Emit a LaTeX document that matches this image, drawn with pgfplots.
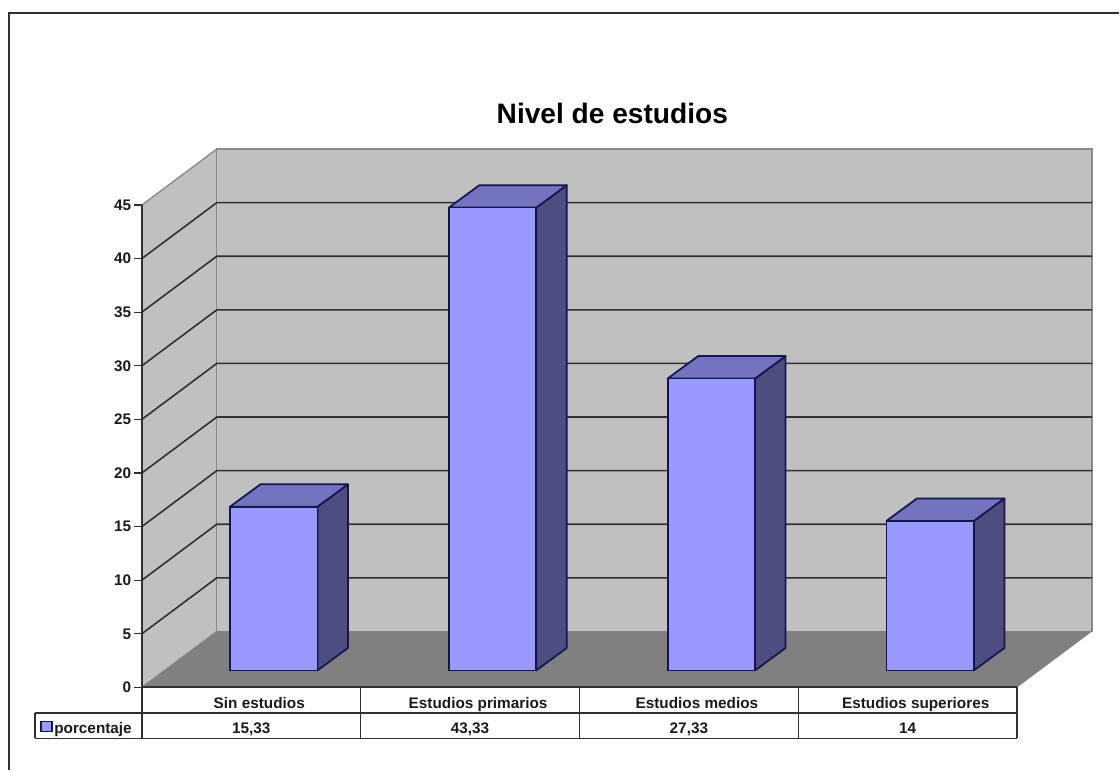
\documentclass[border=0pt]{standalone}
\usepackage{fontspec}
\setmainfont{Liberation Sans}
\usepackage{pgfplots}
\pgfplotsset{compat=1.18}

\definecolor{pared}{HTML}{C0C0C0}
\definecolor{suelo}{HTML}{808080}
\definecolor{borde}{HTML}{8A8A8A}
\definecolor{rejilla}{HTML}{303030}
\definecolor{frente}{HTML}{9999FF}
\definecolor{arriba}{HTML}{7373BF}
\definecolor{lado}{HTML}{4D4D80}
\definecolor{arista}{HTML}{15154F}
\definecolor{texto}{HTML}{1A1A1A}

\newcommand{\letra}{\fontsize{11.5pt}{13pt}\selectfont\bfseries\color{texto}}

% caras lateral y superior de cada barra: posicion, valor
\newcommand{\caras}[2]{
  \addplot[draw=arista, line width=1.3pt, line join=round, fill=lado] coordinates
    {({#1+.1998},0) ({#1+.3391},2.097) ({#1+.3391},{#2+2.097}) ({#1+.1998},#2)} --cycle;
  \addplot[draw=arista, line width=1.3pt, line join=round, fill=arriba] coordinates
    {({#1-.1998},#2) ({#1+.1998},#2) ({#1+.3391},{#2+2.097}) ({#1-.0607},{#2+2.097})} --cycle;
}

\begin{document}
\begin{tikzpicture}
\begin{axis}[
    name=principal,
    scale only axis,
    width=657pt,
    height=362.14pt,
    xmin=0.5, xmax=4.5,
    ymin=0, ymax=45,
    clip=false,
    axis on top,
    axis y line=left,
    axis x line=bottom,
    axis line style={-, draw=rejilla, line width=1.4pt},
    xtick={1,2,3,4},
    xticklabels={Sin estudios, Estudios primarios, Estudios medios, Estudios superiores},
    ytick={0,5,...,45},
    tick align=outside,
    major tick length=6pt,
    x tick style={draw=none},
    y tick style={draw=rejilla, line width=1pt},
    tick label style={font=\letra, /pgf/number format/assume math mode=true},
    x tick label style={anchor=base, xshift=6pt, yshift=-9.6pt},
    y tick label style={xshift=1.5pt},
]
  % paredes y suelo
  \addplot[draw=borde, line width=1pt, fill=pared] coordinates
    {(.5,0) (.5,45) (.8425,50.219) (.8425,5.219)} --cycle;
  \addplot[draw=borde, line width=1pt, fill=pared] coordinates
    {(.8425,5.219) (4.8425,5.219) (4.8425,50.219) (.8425,50.219)} --cycle;
  \addplot[draw=none, fill=suelo] coordinates
    {(.5,0) (4.5,0) (4.8425,5.219) (.8425,5.219)} --cycle;
  \pgfplotsinvokeforeach{5,10,...,40}{
    \draw[rejilla, line width=1.2pt] (axis cs:.5,#1) -- (axis cs:.8425,{#1+5.219})
      -- (axis cs:4.8425,{#1+5.219});
  }
  % marco
  \draw[rejilla, line width=1.4pt] (axis cs:-.1073,-7.735)
    -- (axis cs:-.1073,62.9) -- (axis cs:4.966,62.9);
  % tabla de datos
  \draw[rejilla, line width=1pt] (axis cs:.0114,-2.4) -- (axis cs:4.5,-2.4);
  \draw[rejilla, line width=1pt] (axis cs:.0114,-4.75) -- (axis cs:4.5,-4.75);
  \draw[rejilla, line width=1pt] (axis cs:.0114,-2.4) -- (axis cs:.0114,-4.75);
  \pgfplotsinvokeforeach{.5,1.5,2.5,3.5,4.5}{
    \draw[rejilla, line width=1pt] (axis cs:#1,0) -- (axis cs:#1,-4.75);
  }
  \node[font=\letra, anchor=base] at (axis cs:1,-4.28) {15,33};
  \node[font=\letra, anchor=base] at (axis cs:2,-4.28) {43,33};
  \node[font=\letra, anchor=base] at (axis cs:3,-4.28) {27,33};
  \node[font=\letra, anchor=base] at (axis cs:4,-4.28) {14};
  \filldraw[fill=frente, draw=arista, line width=1pt] (axis cs:.0388,-3.17) rectangle (axis cs:.089,-4.1);
  \node[font=\letra, anchor=base west, inner sep=0pt] at (axis cs:.0985,-4.28) {porcentaje};
  % titulo
  \node[font=\fontsize{21.1pt}{24pt}\selectfont\bfseries, text=black, anchor=base] at (axis cs:2.65,52.6) {Nivel de estudios};
  % tamano de la imagen
  \path (axis cs:-.1484,-7.735) rectangle (axis cs:4.966,64.12);
\end{axis}
% barras, en un plano desplazado hacia el fondo
\begin{axis}[
    at={(principal.south west)},
    anchor=south west,
    xshift=16.875pt,
    yshift=12.75pt,
    scale only axis,
    width=657pt,
    height=360.8pt,
    xmin=0.5, xmax=4.5,
    ymin=0, ymax=45,
    clip=false,
    hide axis,
]
  \caras{1}{15.33}
  \caras{2}{43.33}
  \caras{3}{27.33}
  \caras{4}{14}
  \addplot[ybar, bar width=65.6pt, bar shift=0pt, draw=arista, line width=1.3pt, fill=frente] coordinates
    {(1,15.33) (2,43.33) (3,27.33) (4,14)};
\end{axis}
\end{tikzpicture}
\end{document}
